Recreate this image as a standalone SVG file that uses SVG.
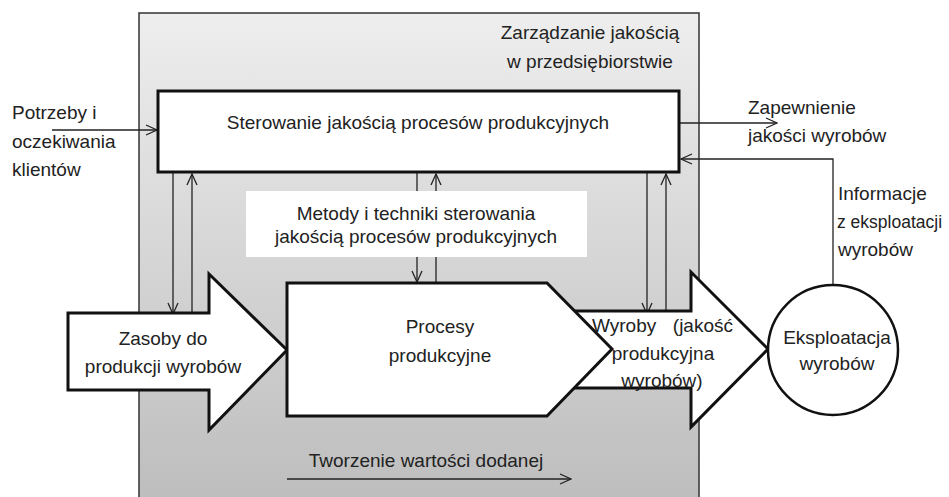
<svg xmlns="http://www.w3.org/2000/svg" width="949" height="497" viewBox="0 0 949 497">
<style>
text{font-family:"Liberation Sans",Arial,sans-serif;font-size:19px;fill:#222}
.c{text-anchor:middle}
.ln{fill:none;stroke:#222;stroke-width:1.3}
.box{fill:#fff;stroke:#111;stroke-width:3;stroke-linejoin:miter}
</style>
<defs>
<linearGradient id="bg" x1="0" y1="0" x2="0" y2="1">
<stop offset="0" stop-color="#eeeeee"/>
<stop offset="1" stop-color="#bcbcbc"/>
</linearGradient>
<marker id="ah" markerUnits="userSpaceOnUse" markerWidth="14" markerHeight="14" viewBox="-13 -7 14 14" refX="0" refY="0" orient="auto">
<path d="M-11,-5 L0,0 L-11,5" fill="none" stroke="#222" stroke-width="1.3"/>
</marker>
</defs>
<g id="enterprise">
<rect x="139" y="13" width="560" height="500" fill="url(#bg)" stroke="#333" stroke-width="1.5"/>
<text class="c" x="590" y="39">Zarządzanie jakością</text>
<text class="c" x="590" y="68">w przedsiębiorstwie</text>
</g>
<g id="connectors">
<line class="ln" x1="52" y1="130" x2="157" y2="130" marker-end="url(#ah)"/>
<line class="ln" x1="680" y1="123" x2="777" y2="123" marker-end="url(#ah)"/>
<path class="ln" d="M833,285 V159 H681" marker-end="url(#ah)"/>
<line class="ln" x1="173" y1="173" x2="173" y2="314" marker-end="url(#ah)"/>
<line class="ln" x1="192" y1="317" x2="192" y2="174" marker-end="url(#ah)"/>
<line class="ln" x1="417" y1="173" x2="417" y2="282" marker-end="url(#ah)"/>
<line class="ln" x1="436" y1="283" x2="436" y2="174" marker-end="url(#ah)"/>
<line class="ln" x1="647" y1="173" x2="647" y2="314" marker-end="url(#ah)"/>
<line class="ln" x1="666" y1="317" x2="666" y2="174" marker-end="url(#ah)"/>
<line class="ln" x1="287" y1="479" x2="571" y2="479" marker-end="url(#ah)"/>
</g>
<g id="customer-needs">
<text x="12" y="119">Potrzeby i</text>
<text x="12" y="148">oczekiwania</text>
<text x="12" y="176">klientów</text>
</g>
<g id="control">
<rect class="box" x="158" y="91" width="521" height="81"/>
<text class="c" x="418" y="129">Sterowanie jakością procesów produkcyjnych</text>
</g>
<g id="quality-assurance">
<text x="748" y="114">Zapewnienie</text>
<text x="748" y="142">jakości wyrobów</text>
</g>
<g id="feedback-info">
<text x="838" y="200">Informacje</text>
<text x="837" y="228" style="font-size:17.5px">z eksploatacji</text>
<text x="838" y="256">wyrobów</text>
</g>
<g id="methods">
<rect x="246" y="191" width="341" height="66" fill="#fff"/>
<text class="c" x="416" y="220">Metody i techniki sterowania</text>
<text class="c" x="416" y="243">jakością procesów produkcyjnych</text>
</g>
<g id="products">
<polygon class="box" points="560,311 691,311 691,272 768,349 691,427 691,388 560,388"/>
</g>
<g id="resources">
<polygon class="box" points="68,313 209,313 209,274 287,350 209,430 209,390 68,390"/>
<text class="c" x="163" y="345">Zasoby do</text>
<text class="c" x="163" y="373">produkcji wyrobów</text>
</g>
<g id="processes">
<polygon class="box" points="287,283 547,283 612,349 547,416 287,416"/>
<text class="c" x="440" y="333">Procesy</text>
<text class="c" x="440" y="362">produkcyjne</text>
</g>
<g id="products-label">
<text x="592" y="332">Wyroby <tspan x="733" text-anchor="end">(jakość</tspan></text>
<text class="c" x="663" y="360">produkcyjna</text>
<text class="c" x="662" y="387">wyrobów)</text>
</g>
<g id="usage">
<circle cx="833" cy="350" r="65" fill="#fff" stroke="#111" stroke-width="2.5"/>
<text class="c" x="837" y="344">Eksploatacja</text>
<text class="c" x="837" y="370">wyrobów</text>
</g>
<g id="value-added">
<text class="c" x="426" y="467">Tworzenie wartości dodanej</text>
</g>
</svg>
